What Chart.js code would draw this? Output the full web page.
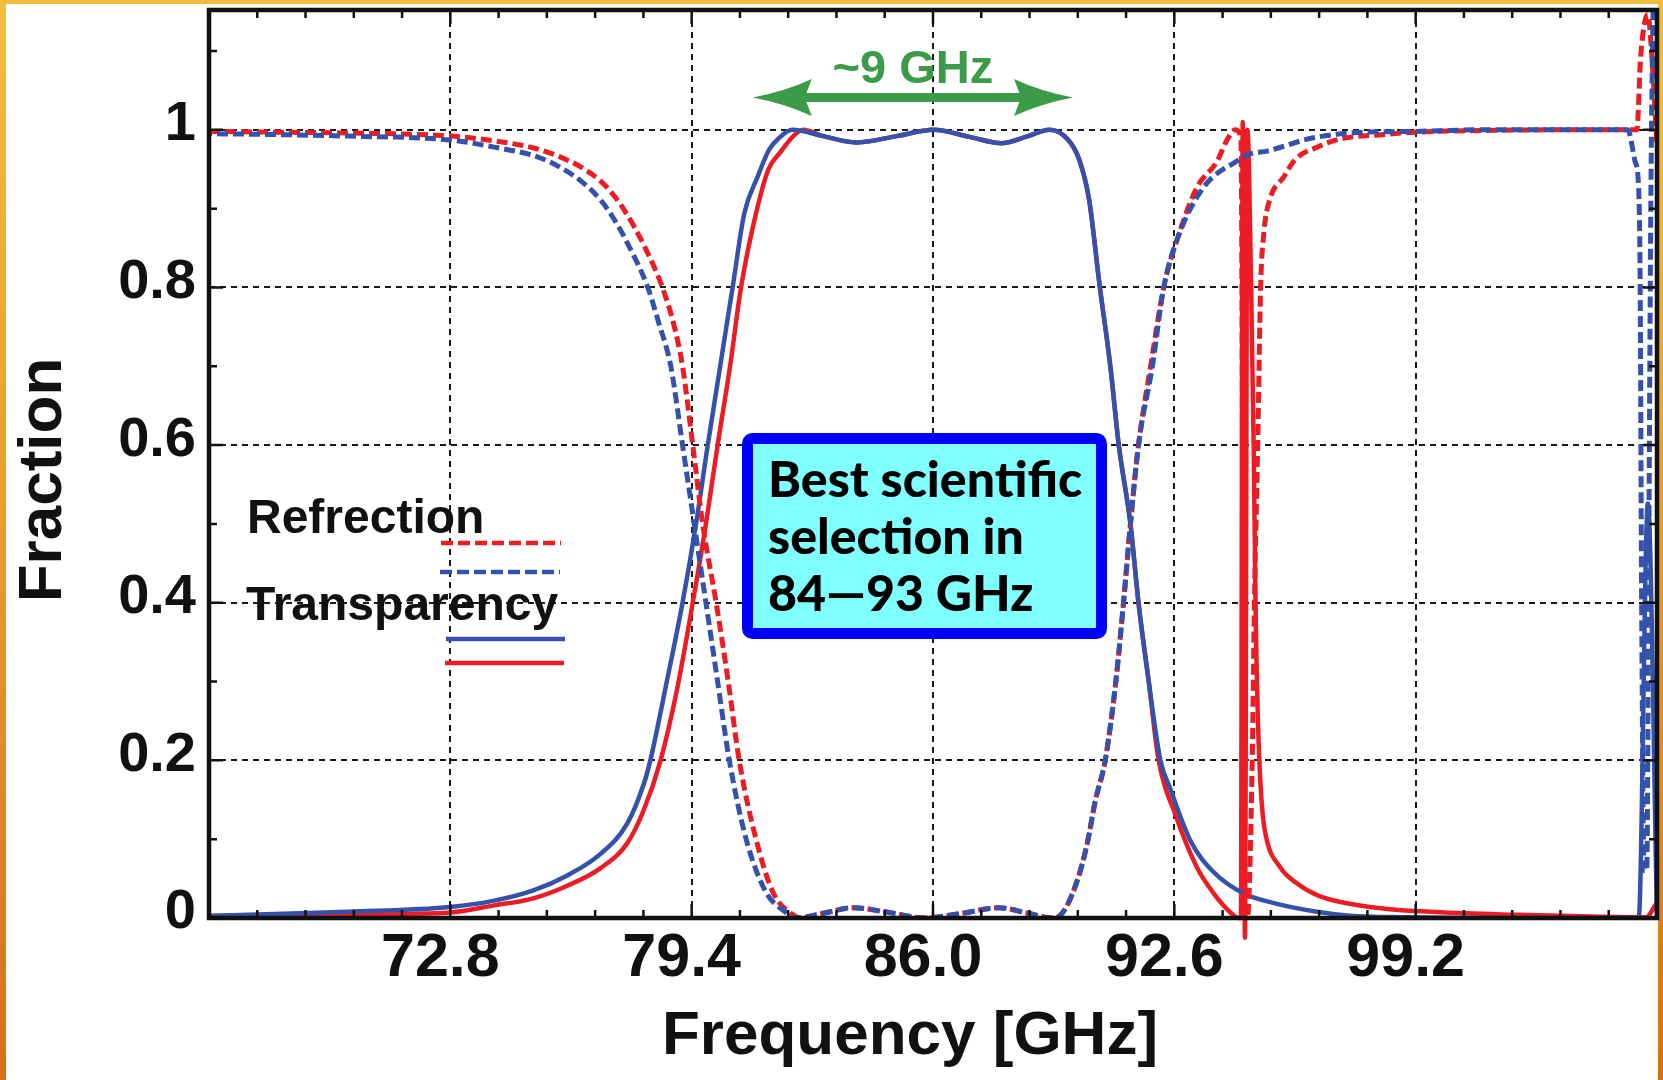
<!DOCTYPE html>
<html>
<head>
<meta charset="utf-8">
<title>Refrection / Transparency</title>
<script src="https://cdn.jsdelivr.net/npm/chart.js@4.4.1/dist/chart.umd.min.js"></script>
<style>
  html, body { margin: 0; padding: 0; }
  body {
    width: 1663px; height: 1080px; overflow: hidden; position: relative;
    background: linear-gradient(180deg, #f3bd3b 0%, #e89c2b 50%, #d6701a 100%);
  }
  #panel { position: absolute; left: 6px; top: 4px; right: 5px; bottom: 0; background: #fff; }
  #chart { position: absolute; left: 0; top: 0; }
</style>
</head>
<body>
<div id="panel"></div>
<canvas id="chart" width="1663" height="1080"></canvas>
<script>
// axis range and tick labels (GHz / fraction)
const X_MIN = 66.2, X_MAX = 105.8, X_MINOR = 1.32;
const Y_MIN = 0, Y_MAX = 1.152;
const xTicks = [72.8, 79.4, 86.0, 92.6, 99.2];
const yTicks = [0, 0.2, 0.4, 0.6, 0.8, 1];

// Refrection, red dashed
const reflRedFreq = [66.2, 68.0, 70.0, 72.8, 74.0, 75.16, 75.78, 76.4, 76.91, 77.3, 77.6, 78.1, 78.6, 78.9, 79.15, 79.43, 79.7, 80.07, 80.4, 80.7, 81.16, 81.62, 82.17, 82.4, 83.0, 83.82, 84.8, 85.78, 86.8, 87.81, 88.6, 89.24, 89.47, 89.92, 90.22, 90.44, 90.71, 91.0, 91.21, 91.4, 91.62, 91.95, 92.31, 92.67, 93.22, 93.77, 94.04, 94.27, 94.42, 94.52, 94.6, 94.73, 94.79, 94.88, 94.96, 95.05, 95.2, 95.59, 95.9, 96.5, 97.1, 98.35, 99.2, 101.0, 103.0, 105.25, 105.35, 105.48, 105.55, 105.65, 105.75, 105.8];
const reflRedVal  = [0.998, 0.997, 0.996, 0.992, 0.986, 0.976, 0.966, 0.952, 0.935, 0.915, 0.895, 0.853, 0.8, 0.755, 0.7, 0.6, 0.5, 0.4, 0.3, 0.2, 0.1, 0.033, 0.004, 0.0, 0.006, 0.013, 0.007, 0.0, 0.006, 0.013, 0.006, 0.0, 0.003, 0.044, 0.095, 0.149, 0.2, 0.3, 0.4, 0.5, 0.6, 0.7, 0.8, 0.86, 0.927, 0.96, 0.987, 1.0, 0.99, 0.0, 0.0, 0.2, 0.4, 0.6, 0.8, 0.87, 0.91, 0.94, 0.962, 0.978, 0.988, 0.994, 0.997, 0.999, 1.0, 1.0, 1.09, 1.14, 1.146, 1.1, 1.02, 0.98];

// Refrection, blue dashed
const reflBlueFreq = [66.2, 68.0, 70.0, 72.8, 74.0, 75.16, 75.78, 76.4, 76.91, 77.3, 77.6, 78.2, 78.5, 78.83, 79.15, 79.47, 79.79, 80.11, 80.43, 80.89, 81.43, 81.98, 82.2, 83.0, 83.82, 84.8, 85.78, 86.8, 87.81, 88.6, 89.24, 89.47, 89.92, 90.22, 90.44, 90.71, 91.0, 91.21, 91.4, 91.62, 92.0, 92.31, 92.67, 93.4, 94.3, 94.71, 95.14, 96.14, 96.54, 97.42, 99.2, 101.0, 105.0, 105.2, 105.3, 105.34, 105.38, 105.45, 105.52, 105.58, 105.63, 105.69];
const reflBlueVal  = [0.995, 0.994, 0.992, 0.987, 0.978, 0.966, 0.953, 0.934, 0.911, 0.885, 0.86, 0.8, 0.755, 0.7, 0.6, 0.5, 0.4, 0.3, 0.2, 0.1, 0.033, 0.007, 0.0, 0.006, 0.013, 0.007, 0.0, 0.006, 0.013, 0.006, 0.0, 0.003, 0.044, 0.095, 0.149, 0.2, 0.3, 0.4, 0.5, 0.6, 0.7, 0.8, 0.86, 0.927, 0.96, 0.97, 0.973, 0.987, 0.991, 0.996, 0.998, 1.0, 1.0, 0.96, 0.924, 0.8, 0.4, 0.06, 0.06, 0.5, 0.9, 1.15];

// Transparency, blue solid
const transBlueFreq = [66.2, 68.0, 70.0, 72.8, 74.0, 75.07, 76.0, 76.9, 77.64, 78.09, 78.27, 78.72, 79.15, 79.52, 79.84, 80.18, 80.52, 80.84, 81.2, 81.52, 81.8, 82.15, 83.0, 83.9, 85.0, 86.03, 87.0, 87.86, 88.6, 89.17, 89.7, 90.0, 90.27, 90.55, 90.85, 91.08, 91.4, 91.62, 91.9, 92.22, 92.49, 93.04, 93.68, 94.5, 95.41, 96.5, 97.4, 99.0, 101.0, 105.3, 105.55, 105.8];
const transBlueVal  = [0.003, 0.005, 0.008, 0.014, 0.022, 0.035, 0.054, 0.081, 0.12, 0.17, 0.2, 0.3, 0.4, 0.5, 0.6, 0.7, 0.8, 0.894, 0.94, 0.975, 0.99, 1.0, 0.992, 0.984, 0.992, 1.0, 0.991, 0.983, 0.992, 1.0, 0.987, 0.962, 0.911, 0.805, 0.7, 0.6, 0.5, 0.4, 0.3, 0.2, 0.164, 0.098, 0.058, 0.031, 0.018, 0.008, 0.003, 0.001, 0.0, 0.0, 0.526, 0.0];

// Transparency, red solid
const transRedFreq = [66.2, 68.0, 70.0, 72.8, 74.0, 75.07, 76.0, 76.9, 77.64, 78.09, 78.55, 79.0, 79.43, 79.79, 80.11, 80.45, 80.75, 81.16, 81.5, 81.8, 82.2, 82.45, 83.0, 83.9, 85.0, 86.0, 87.0, 87.9, 88.6, 89.2, 89.7, 90.0, 90.27, 90.55, 90.85, 91.08, 91.4, 91.62, 91.9, 92.17, 92.63, 93.22, 93.68, 94.18, 94.35, 94.42, 94.47, 94.53, 94.6, 94.7, 94.77, 94.82, 94.9, 95.0, 95.1, 95.5, 95.95, 96.55, 97.4, 98.5, 100.0, 102.0, 104.0, 105.5, 105.8];
const transRedVal  = [0.001, 0.002, 0.004, 0.007, 0.016, 0.025, 0.041, 0.063, 0.095, 0.137, 0.2, 0.29, 0.4, 0.5, 0.6, 0.7, 0.8, 0.894, 0.95, 0.97, 0.993, 1.0, 0.992, 0.984, 0.992, 1.0, 0.991, 0.983, 0.992, 1.0, 0.987, 0.962, 0.911, 0.805, 0.7, 0.6, 0.5, 0.4, 0.3, 0.2, 0.131, 0.064, 0.031, 0.005, 0.0, 0.0, 1.01, -0.025, 1.0, 0.8, 0.6, 0.4, 0.23, 0.14, 0.105, 0.064, 0.044, 0.028, 0.018, 0.011, 0.007, 0.004, 0.002, 0.001, 0.02];

// "~9 GHz" span marker (GHz, fraction)
const spanFreq = [81.07, 89.83];
const spanLevel = 1.041;
const spanLabelLevel = 1.059;

const RED = '#ec1c24';
const BLUE = '#3452ab';
const GREEN = '#3c9b48';
const FONT = '"Liberation Sans", Arial, sans-serif';

const toPoints = (xs, ys) => xs.map((v, i) => ({ x: v, y: ys[i] }));

// frame, inward ticks, titles, legend and annotations
const extras = {
    id: 'extras',
    afterDatasetsDraw(chart) {
        const { ctx, chartArea: a, scales: { x, y } } = chart;
        ctx.save();
        ctx.strokeStyle = '#111';
        ctx.lineWidth = 2.5;
        ctx.beginPath();
        const nx = Math.round((X_MAX - X_MIN) / X_MINOR);
        for (let i = 1; i < nx; i++) {
            const px = x.getPixelForValue(X_MIN + i * X_MINOR);
            const len = i % 5 === 0 ? 14 : 8;
            ctx.moveTo(px, a.bottom); ctx.lineTo(px, a.bottom - len);
            ctx.moveTo(px, a.top); ctx.lineTo(px, a.top + len);
        }
        for (let i = 1; i <= 11; i++) {
            const py = y.getPixelForValue(i * 0.1);
            const len = i % 2 === 0 ? 14 : 8;
            ctx.moveTo(a.left, py); ctx.lineTo(a.left + len, py);
            ctx.moveTo(a.right, py); ctx.lineTo(a.right - len, py);
        }
        ctx.stroke();
        ctx.lineWidth = 4.5;
        ctx.strokeRect(a.left, a.top, a.right - a.left, a.bottom - a.top);
        ctx.restore();
    },
    afterDraw(chart) {
        const { ctx, scales: { x, y } } = chart;
        ctx.save();

        // axis titles
        ctx.fillStyle = '#111';
        ctx.textAlign = 'center';
        ctx.textBaseline = 'alphabetic';
        ctx.font = 'bold 62px ' + FONT;
        ctx.fillText('Frequency [GHz]', 910, 1054);
        ctx.save();
        ctx.translate(61, 480);
        ctx.rotate(-Math.PI / 2);
        ctx.font = 'bold 62px ' + FONT;
        ctx.fillText('Fraction', 0, 0);
        ctx.restore();

        // legend
        ctx.textAlign = 'left';
        ctx.font = 'bold 48px ' + FONT;
        ctx.fillText('Refrection', 247, 533);
        ctx.fillText('Transparency', 246, 620);
        const sample = (x0, x1, yy, color, dash) => {
            ctx.beginPath();
            ctx.setLineDash(dash);
            ctx.strokeStyle = color;
            ctx.lineWidth = 4.5;
            ctx.moveTo(x0, yy); ctx.lineTo(x1, yy);
            ctx.stroke();
        };
        sample(441, 561, 543, RED, [12, 5]);
        sample(440, 560, 572, BLUE, [12, 5]);
        sample(446, 565, 639, BLUE, []);
        sample(445, 564, 663, RED, []);
        ctx.setLineDash([]);

        // note box
        const bx = 747.5, by = 438.5, bw = 354, bh = 195, r = 5;
        ctx.beginPath();
        ctx.moveTo(bx + r, by);
        ctx.arcTo(bx + bw, by, bx + bw, by + bh, r);
        ctx.arcTo(bx + bw, by + bh, bx, by + bh, r);
        ctx.arcTo(bx, by + bh, bx, by, r);
        ctx.arcTo(bx, by, bx + bw, by, r);
        ctx.closePath();
        ctx.fillStyle = '#80ffff';
        ctx.fill();
        ctx.lineWidth = 11;
        ctx.strokeStyle = '#0000ff';
        ctx.stroke();
        ctx.fillStyle = '#000';
        ctx.font = '900 50px Lato, ' + FONT;
        ctx.fillText('Best scientific', 768, 497);
        ctx.fillText('selection in', 768, 554);
        ctx.fillText('84\u201493 GHz', 768, 611);

        // ~9 GHz span arrow
        const ax0 = x.getPixelForValue(spanFreq[0]);
        const ax1 = x.getPixelForValue(spanFreq[1]);
        const ay = y.getPixelForValue(spanLevel);
        ctx.strokeStyle = GREEN;
        ctx.fillStyle = GREEN;
        ctx.lineWidth = 9;
        ctx.beginPath();
        ctx.moveTo(ax0 + 40, ay); ctx.lineTo(ax1 - 40, ay);
        ctx.stroke();
        const head = (tx, dir) => {
            ctx.beginPath();
            ctx.moveTo(tx, ay);
            ctx.quadraticCurveTo(tx + dir * 32, ay - 6, tx + dir * 59, ay - 18.5);
            ctx.lineTo(tx + dir * 52, ay);
            ctx.lineTo(tx + dir * 59, ay + 18.5);
            ctx.quadraticCurveTo(tx + dir * 32, ay + 6, tx, ay);
            ctx.fill();
        };
        head(ax0, 1);
        head(ax1, -1);
        ctx.textAlign = 'center';
        ctx.font = 'bold 47px ' + FONT;
        ctx.fillText('~9 GHz', (ax0 + ax1) / 2, y.getPixelForValue(spanLabelLevel));

        ctx.restore();
    }
};

const tickFont = (size) => ({ family: FONT, size: size, weight: 'bold' });

new Chart(document.getElementById('chart'), {
    type: 'line',
    data: {
        datasets: [
            {
                label: 'Refrection (red)',
                data: toPoints(reflRedFreq, reflRedVal),
                borderColor: RED,
                borderWidth: 5,
                borderDash: [11, 5],
                order: 2
            },
            {
                label: 'Refrection (blue)',
                data: toPoints(reflBlueFreq, reflBlueVal),
                borderColor: BLUE,
                borderWidth: 5,
                borderDash: [11, 5],
                borderDashOffset: 8,
                order: 1
            },
            {
                label: 'Transparency (blue)',
                data: toPoints(transBlueFreq, transBlueVal),
                borderColor: BLUE,
                order: 3
            },
            {
                label: 'Transparency (red)',
                data: toPoints(transRedFreq, transRedVal),
                borderColor: RED,
                clip: { left: 2, top: 2, right: 2, bottom: 25 },
                order: 4
            }
        ]
    },
    options: {
        responsive: false,
        animation: false,
        devicePixelRatio: 1,
        elements: {
            point: { radius: 0 },
            line: { borderWidth: 4.5, fill: false, cubicInterpolationMode: 'monotone' }
        },
        layout: { padding: { top: 10, right: 6, bottom: 0, left: 0 } },
        plugins: {
            legend: { display: false },
            tooltip: { enabled: false }
        },
        scales: {
            x: {
                type: 'linear',
                min: X_MIN,
                max: X_MAX,
                afterFit(scale) {
                    scale.height = 162;
                    scale.paddingLeft = 0;
                    scale.paddingRight = 0;
                },
                afterBuildTicks(scale) { scale.ticks = xTicks.map(v => ({ value: v })); },
                grid: { color: '#1a1a1a', lineWidth: 2, drawTicks: false },
                border: { display: false, dash: [6, 5] },
                ticks: {
                    padding: 5,
                    labelOffset: -10,
                    color: '#111',
                    font: tickFont(61),
                    maxRotation: 0,
                    autoSkip: false,
                    callback: (v) => Number(v).toFixed(1)
                }
            },
            y: {
                type: 'linear',
                min: Y_MIN,
                max: Y_MAX,
                afterFit(scale) {
                    scale.width = 209;
                    scale.paddingTop = 0;
                    scale.paddingBottom = 0;
                },
                afterBuildTicks(scale) { scale.ticks = yTicks.map(v => ({ value: v })); },
                grid: { color: '#1a1a1a', lineWidth: 2, drawTicks: false },
                border: { display: false, dash: [6, 5] },
                ticks: {
                    padding: 13,
                    labelOffset: -5,
                    color: '#111',
                    font: tickFont(56),
                    callback: (v) => String(+Number(v).toFixed(1))
                }
            }
        }
    },
    plugins: [extras]
});
</script>
</body>
</html>
